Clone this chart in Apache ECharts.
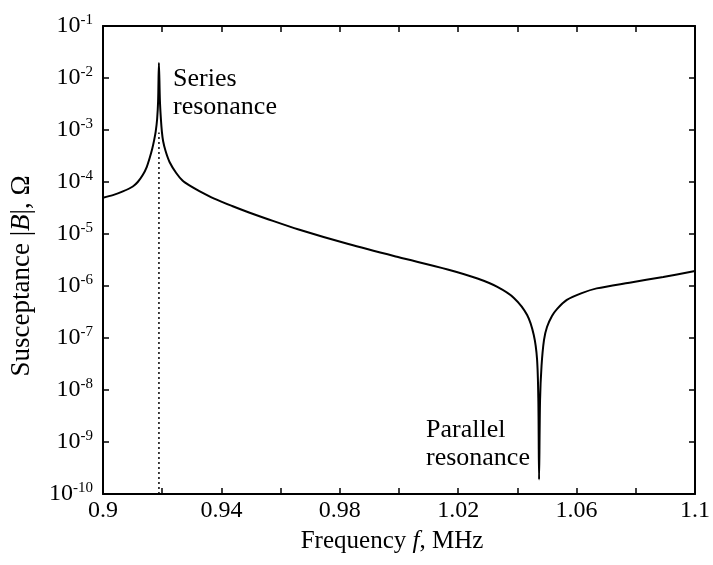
<!DOCTYPE html>
<html><head><meta charset="utf-8">
<script src="https://cdn.jsdelivr.net/npm/echarts@6/dist/echarts.min.js"></script>
<style>html,body{margin:0;padding:0;background:#fff}#c{width:713px;height:565px}</style>
</head><body><div id="c"></div>
<script>
const frequencyMHz = [0.90000, 0.90336, 0.90671, 0.91007, 0.91174, 0.91342, 0.91477, 0.91577, 0.91661, 0.91728, 0.91779, 0.91829, 0.91862, 0.91889, 0.91923, 0.91956, 0.91990, 0.92030, 0.92114, 0.92248, 0.92473, 0.92685, 0.92919, 0.93255, 0.93758, 0.94362, 0.94933, 0.95503, 0.96611, 0.98289, 0.99966, 1.01644, 1.02651, 1.03322, 1.03882, 1.04329, 1.04553, 1.04664, 1.04708, 1.04732, 1.04765, 1.04815, 1.04899, 1.05000, 1.05168, 1.05336, 1.05671, 1.06174, 1.06678, 1.07785, 1.08926, 1.10000];
const susceptance = [5.0e-5, 5.6e-5, 6.6e-5, 8.2e-5, 1.0e-4, 1.36e-4, 1.94e-4, 2.9e-4, 4.3e-4, 6.4e-4, 9.2e-4, 1.63e-3, 3.6e-3, 1.94e-2, 3.6e-3, 1.63e-3, 9.2e-4, 6.14e-4, 3.94e-4, 2.43e-4, 1.49e-4, 1.07e-4, 8.6e-5, 6.7e-5, 4.8e-5, 3.45e-5, 2.59e-5, 1.99e-5, 1.22e-5, 6.4e-6, 3.6e-6, 2.08e-6, 1.39e-6, 9.6e-7, 5.9e-7, 2.77e-7, 1.14e-7, 3.9e-8, 6.2e-9, 1.9e-10, 6.2e-9, 2.9e-8, 9.2e-8, 1.63e-7, 2.65e-7, 3.6e-7, 5.4e-7, 7.3e-7, 9.0e-7, 1.16e-6, 1.49e-6, 1.94e-6];
const dottedFreq = [0.9189, 0.9189];
const dottedB = [1e-10, 9.0e-4];
const xTickLabels = ['0.9', '0.94', '0.98', '1.02', '1.06', '1.1'];
const yTickExponents = [-10, -9, -8, -7, -6, -5, -4, -3, -2, -1];
const annotations = ['Series\nresonance', 'Parallel\nresonance'];

const FONT = '"Liberation Serif", "Times New Roman", serif';
const chart = echarts.init(document.getElementById('c'), null, {renderer: 'canvas'});

const curve = frequencyMHz.map((f, i) => [f, susceptance[i]]);
const dotted = dottedFreq.map((f, i) => [f, dottedB[i]]);

const axisLineStyle = {color: '#000', width: 2};
const tickStyle = {inside: true, length: 6, lineStyle: {color: '#000', width: 1.5}};

function fmtX(v) {
  const s = String(parseFloat(v.toFixed(2)));
  return xTickLabels.includes(s) ? s : '';
}
function fmtY(v) {
  const e = Math.round(Math.log10(v));
  return yTickExponents.includes(e) ? '{b|10}{s|' + e + '}' : '';
}

const option = {
  backgroundColor: '#fff',
  animation: false,
  grid: {left: 103, right: 14, top: 26, bottom: 71, containLabel: false},
  xAxis: [{
    type: 'value', min: 0.9, max: 1.1, interval: 0.02, position: 'bottom',
    axisLine: {show: true, onZero: false, lineStyle: axisLineStyle},
    axisTick: tickStyle,
    splitLine: {show: false},
    axisLabel: {formatter: fmtX, fontFamily: FONT, fontSize: 24, color: '#000', margin: 5, showMinLabel: true, showMaxLabel: true},
    name: 'Frequency {i|f}, MHz', nameLocation: 'middle', nameGap: 35,
    nameTextStyle: {fontFamily: FONT, fontSize: 25, color: '#000', padding: [0, 14, 0, 0],
      rich: {i: {fontFamily: FONT, fontSize: 25, fontStyle: 'italic', color: '#000'}}}
  }, {
    type: 'value', min: 0.9, max: 1.1, interval: 0.02, position: 'top',
    axisLine: {show: true, onZero: false, lineStyle: axisLineStyle},
    axisTick: tickStyle, splitLine: {show: false}, axisLabel: {show: false}
  }],
  yAxis: [{
    type: 'log', logBase: 10, min: 1e-10, max: 1e-1, interval: 1, position: 'left',
    axisLine: {show: true, onZero: false, lineStyle: axisLineStyle},
    axisTick: tickStyle, splitLine: {show: false}, minorTick: {show: false},
    axisLabel: {formatter: fmtY, margin: 10, showMinLabel: true, showMaxLabel: true,
      rich: {
        b: {fontFamily: FONT, fontSize: 24, color: '#000', lineHeight: 26},
        s: {fontFamily: FONT, fontSize: 15, color: '#000', verticalAlign: 'top', lineHeight: 15}
      }}
  }, {
    type: 'log', logBase: 10, min: 1e-10, max: 1e-1, interval: 1, position: 'right',
    axisLine: {show: true, onZero: false, lineStyle: axisLineStyle},
    axisTick: tickStyle, splitLine: {show: false}, axisLabel: {show: false}
  }],
  series: [{
    type: 'line', data: curve, xAxisIndex: 0, yAxisIndex: 0,
    showSymbol: false, smooth: 0.3, lineStyle: {color: '#000', width: 2}, z: 3
  }, {
    type: 'line', data: dotted, xAxisIndex: 0, yAxisIndex: 0,
    showSymbol: false, lineStyle: {color: '#000', width: 1.5, type: [2, 3]}, z: 2
  }],
  graphic: [{
    type: 'text', left: 173, top: 65,
    style: {text: annotations[0], font: '26px ' + FONT, lineHeight: 28, fill: '#000'}
  }, {
    type: 'text', left: 426, top: 416,
    style: {text: annotations[1], font: '26px ' + FONT, lineHeight: 28, fill: '#000'}
  }, {
    type: 'text', x: 22, y: 276, rotation: Math.PI / 2,
    style: {text: '{n|Susceptance |}{i|B}{n||, Ω}', align: 'center', verticalAlign: 'middle',
      fill: '#000', font: '27px ' + FONT,
      rich: {n: {fontFamily: FONT, fontSize: 27, fill: '#000'},
             i: {fontFamily: FONT, fontSize: 27, fontStyle: 'italic', fill: '#000'}}}
  }]
};
chart.setOption(option);
</script>
</body></html>
